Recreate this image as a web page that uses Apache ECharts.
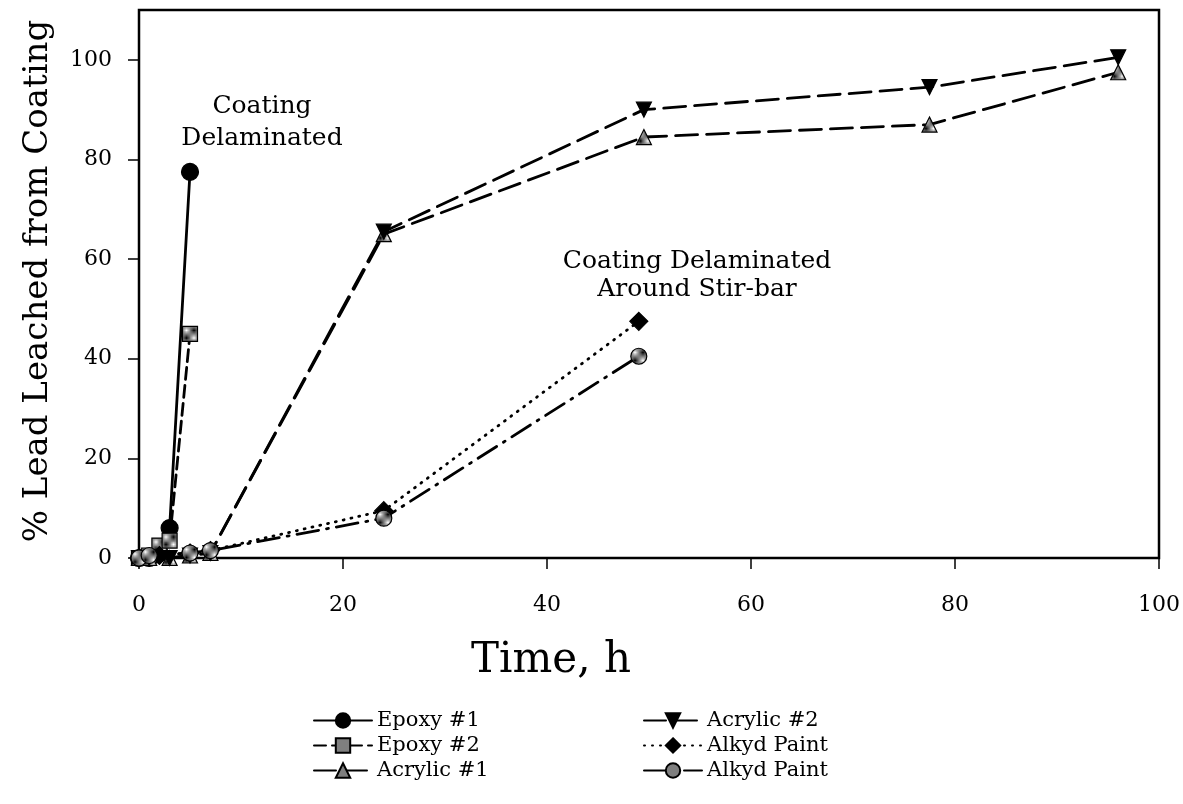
<!DOCTYPE html>
<html>
<head>
<meta charset="utf-8">
<script src="https://cdn.jsdelivr.net/npm/echarts@6/dist/echarts.min.js"></script>
<style>html,body{margin:0;padding:0;background:#fff;}#chart{width:1183px;height:804px;}</style>
</head>
<body>
<div id="chart"></div>
<script>
// ---- data ----
const xTicks = [0, 20, 40, 60, 80, 100];
const yTicks = [0, 20, 40, 60, 80, 100];
const seriesNames = ['Epoxy #1', 'Epoxy #2', 'Acrylic #1', 'Acrylic #2', 'Alkyd Paint', 'Alkyd Paint '];
const epoxy1 = [[0, 0], [1, 0], [2, 1], [3, 6], [5, 77.5]];
const epoxy2 = [[0, 0], [1, 0.5], [2, 2.5], [3, 3.5], [5, 45]];
const acrylic1 = [[0, 0], [1, 0], [3, 0], [5, 0.5], [7, 1], [24, 65], [49.5, 84.5], [77.5, 87], [96, 97.5]];
const acrylic2 = [[0, 0], [1, 0], [3, 0], [5, 0.5], [7, 1], [24, 65.5], [49.5, 90], [77.5, 94.5], [96, 100.5]];
const alkyd1 = [[0, 0], [2, 0.5], [5, 1], [7, 1.5], [24, 9.5], [49, 47.5]];
const alkyd2 = [[0, 0], [1, 0.5], [5, 1], [7, 1.5], [24, 8], [49, 40.5]];
const annot1 = 'Coating\nDelaminated';
const annot2 = 'Coating Delaminated\nAround Stir-bar';

// hatched fill pattern (checker)
const pc = document.createElement('canvas');
pc.width = 2; pc.height = 2;
const pctx = pc.getContext('2d');
pctx.fillStyle = '#000'; pctx.fillRect(0, 0, 2, 2);
pctx.fillStyle = '#fff'; pctx.fillRect(0, 0, 1, 1); pctx.fillRect(1, 1, 1, 1);
const hatch = { image: pc, repeat: 'repeat' };

const FONT = 'DejaVu Serif';
function mk(name, data, symbol, size, fill, lineType) {
  return {
    name: name, type: 'line', data: data, symbol: symbol, symbolSize: size,
    showAllSymbol: true, animation: false,
    lineStyle: { color: '#000', width: 2.8, type: lineType, cap: 'round' },
    itemStyle: { color: fill, borderColor: '#000', borderWidth: 1.2 }
  };
}

const legendText = { fontFamily: FONT, fontSize: 21, color: '#000' };

const chart = echarts.init(document.getElementById('chart'));
chart.setOption({
  backgroundColor: '#fff',
  animation: false,
  grid: { left: 139, right: 23, top: 10, bottom: 246, show: true, borderColor: '#000', borderWidth: 2.5, backgroundColor: 'transparent' },
  xAxis: {
    type: 'value', min: 0, max: 100, interval: 20,
    name: 'Time, h', nameLocation: 'middle', nameGap: 82,
    nameTextStyle: { fontFamily: FONT, fontSize: 42, color: '#000', padding: [0, 196, 0, 0] },
    axisLine: { show: true, lineStyle: { color: '#000', width: 2 } },
    axisTick: { show: true, inside: false, length: 11, lineStyle: { color: '#000', width: 1.5 } },
    axisLabel: { fontFamily: FONT, fontSize: 22, color: '#000', margin: 36 },
    splitLine: { show: false }
  },
  yAxis: {
    type: 'value', min: 0, max: 110, interval: 20,
    name: '% Lead Leached from Coating', nameLocation: 'middle', nameGap: 84,
    nameTextStyle: { fontFamily: FONT, fontSize: 34, color: '#000', padding: [0, 0, 0, 6] },
    axisLine: { show: true, lineStyle: { color: '#000', width: 2 } },
    axisTick: { show: true, inside: false, length: 11, customValues: yTicks, lineStyle: { color: '#000', width: 1.5 } },
    axisLabel: { fontFamily: FONT, fontSize: 22, color: '#000', margin: 27, customValues: yTicks },
    splitLine: { show: false }
  },
  legend: [
    {
      left: 308, top: 705, orient: 'vertical', itemWidth: 58, itemHeight: 18, itemGap: 4,
      data: seriesNames.slice(0, 3), textStyle: legendText, selectedMode: false
    },
    {
      left: 638, top: 705, orient: 'vertical', itemWidth: 58, itemHeight: 18, itemGap: 4,
      data: seriesNames.slice(3, 6), textStyle: legendText, selectedMode: false
    }
  ],
  graphic: [
    { type: 'text', x: 262, y: 90, style: { text: annot1, fontFamily: FONT, fontSize: 25, fill: '#000', align: 'center', lineHeight: 32 } },
    { type: 'text', x: 697, y: 247, style: { text: annot2, fontFamily: FONT, fontSize: 25, fill: '#000', align: 'center', lineHeight: 28 } }
  ],
  series: [
    mk(seriesNames[0], epoxy1, 'circle', 17, '#000', 'solid'),
    mk(seriesNames[1], epoxy2, 'rect', 15, hatch, [12, 6]),
    mk(seriesNames[2], acrylic1, 'triangle', 15, hatch, [22, 9]),
    mk(seriesNames[3], acrylic2, 'path://M0,0 L10,0 L5,10 Z', 15, '#000', [22, 9]),
    mk(seriesNames[4], alkyd1, 'diamond', 18, '#000', [1, 7]),
    mk(seriesNames[5], alkyd2, 'circle', 16, hatch, [22, 8, 2, 8])
  ]
});
</script>
</body>
</html>
